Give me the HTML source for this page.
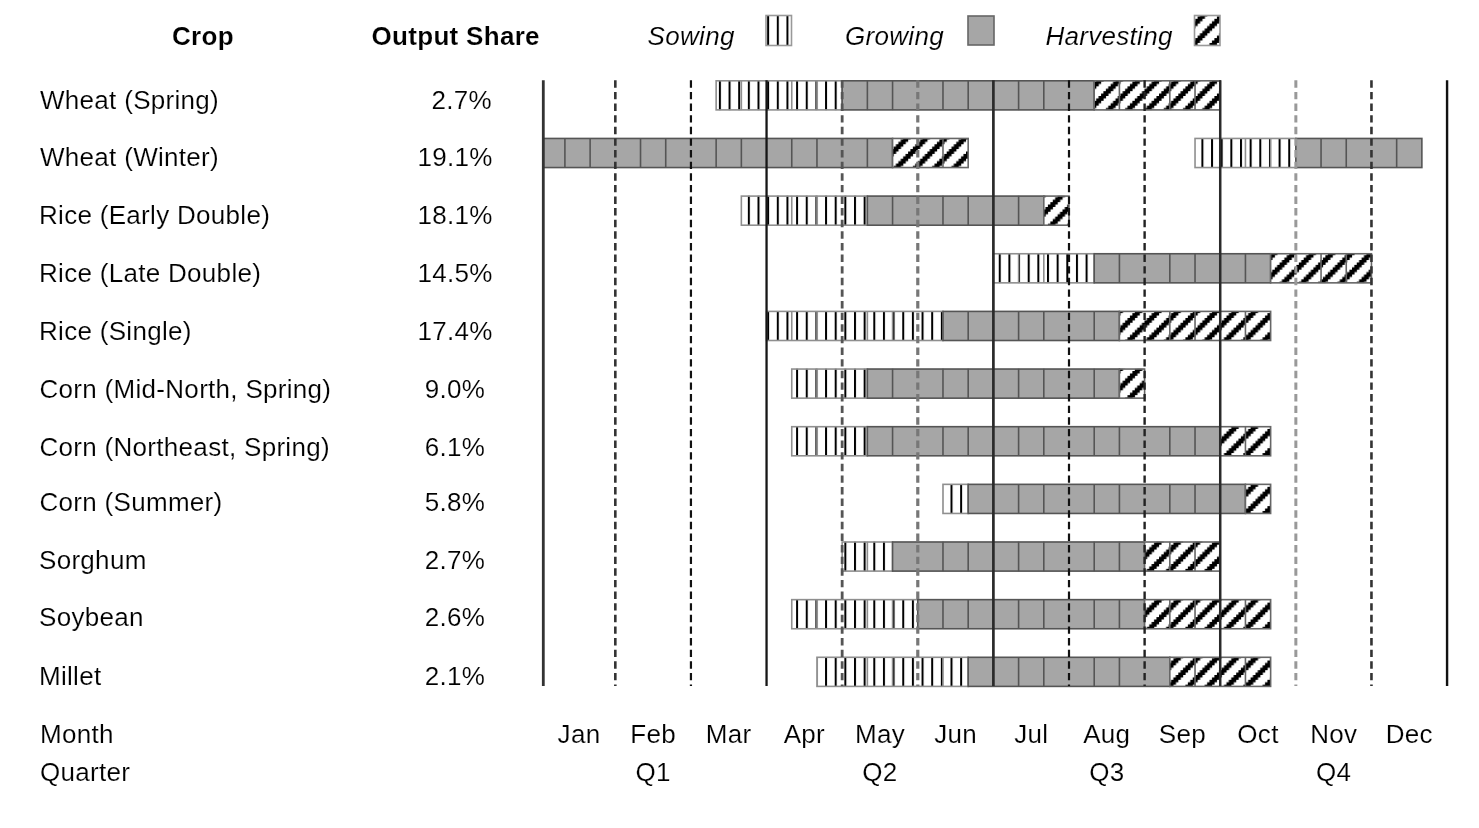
<!DOCTYPE html><html><head><meta charset="utf-8"><style>html,body{margin:0;padding:0;background:#fff;}body{width:1479px;height:828px;overflow:hidden;}svg{display:block;}text{font-family:"Liberation Sans", sans-serif;font-size:26px;fill:#000;letter-spacing:0.3px;stroke:#fff;stroke-width:0.15px;}svg{will-change:transform;}</style></head><body>
<svg width="1479" height="828" viewBox="0 0 1479 828">
<defs>
<pattern id="ps" patternUnits="userSpaceOnUse" x="4.800" y="0" width="9.650" height="100"><rect width="9.650" height="100" fill="#fff"/><rect x="0" y="0" width="2" height="100" fill="#000"/></pattern>
<pattern id="ph" patternUnits="userSpaceOnUse" x="1.0000" y="-0.5000" width="19.3000" height="19.3000"><rect width="19.3000" height="19.3000" fill="#fff"/><path fill="#000" d="M16.787 0.000h7.438v2.413h-7.438zM-2.513 0.000h7.438v2.413h-7.438zM14.375 2.413h7.438v2.413h-7.438zM-4.925 2.413h7.438v2.413h-7.438zM11.963 4.825h7.438v2.413h-7.438zM-7.338 4.825h7.438v2.413h-7.438zM9.550 7.238h7.438v2.413h-7.438zM-9.750 7.238h7.438v2.413h-7.438zM7.138 9.650h7.438v2.413h-7.438zM-12.162 9.650h7.438v2.413h-7.438zM4.725 12.062h7.438v2.413h-7.438zM-14.575 12.062h7.438v2.413h-7.438zM2.312 14.475h7.438v2.413h-7.438zM-16.988 14.475h7.438v2.413h-7.438zM-0.100 16.887h7.438v2.413h-7.438zM-19.400 16.887h7.438v2.413h-7.438z"/></pattern>
</defs>
<rect width="1479" height="828" fill="#fff"/>
<text x="172" y="44.6" font-weight="bold">Crop</text>
<text x="371.6" y="44.6" font-weight="bold">Output Share</text>
<text x="647.6" y="44.6" font-style="italic">Sowing</text>
<text x="845" y="44.6" font-style="italic">Growing</text>
<text x="1045.4" y="44.6" font-style="italic">Harvesting</text>
<rect x="766" y="15.5" width="25.5" height="30" fill="url(#ps)" stroke="#999" stroke-width="1.6"/>
<rect x="968" y="16" width="26" height="29" fill="#a6a6a6" stroke="#666" stroke-width="1.6"/>
<rect x="1194.5" y="15.5" width="25.5" height="30" fill="url(#ph)" stroke="#999" stroke-width="1.6"/>
<text x="40.0" y="108.7">Wheat (Spring)</text>
<text x="492" y="108.7" text-anchor="end">2.7%</text>
<rect x="716.14" y="80.50" width="126.02" height="29.60" fill="url(#ps)"/>
<line x1="741.35" y1="80.50" x2="741.35" y2="110.10" stroke="#8f8f8f" stroke-width="1.6"/>
<line x1="791.75" y1="80.50" x2="791.75" y2="110.10" stroke="#8f8f8f" stroke-width="1.6"/>
<line x1="816.96" y1="80.50" x2="816.96" y2="110.10" stroke="#8f8f8f" stroke-width="1.6"/>
<rect x="716.14" y="80.80" width="126.02" height="29.10" fill="none" stroke="#8f8f8f" stroke-width="1.6"/>
<rect x="842.16" y="80.50" width="252.05" height="29.60" fill="#a6a6a6"/>
<line x1="867.37" y1="80.50" x2="867.37" y2="110.10" stroke="#555" stroke-width="1.6"/>
<line x1="892.57" y1="80.50" x2="892.57" y2="110.10" stroke="#555" stroke-width="1.6"/>
<line x1="942.98" y1="80.50" x2="942.98" y2="110.10" stroke="#555" stroke-width="1.6"/>
<line x1="968.19" y1="80.50" x2="968.19" y2="110.10" stroke="#555" stroke-width="1.6"/>
<line x1="1018.60" y1="80.50" x2="1018.60" y2="110.10" stroke="#555" stroke-width="1.6"/>
<line x1="1043.80" y1="80.50" x2="1043.80" y2="110.10" stroke="#555" stroke-width="1.6"/>
<rect x="842.16" y="80.80" width="252.05" height="29.10" fill="none" stroke="#555" stroke-width="1.6"/>
<rect x="1094.21" y="80.50" width="126.02" height="29.60" fill="url(#ph)"/>
<line x1="1119.41" y1="80.50" x2="1119.41" y2="110.10" stroke="#666" stroke-width="1.6"/>
<line x1="1169.82" y1="80.50" x2="1169.82" y2="110.10" stroke="#666" stroke-width="1.6"/>
<line x1="1195.03" y1="80.50" x2="1195.03" y2="110.10" stroke="#666" stroke-width="1.6"/>
<rect x="1094.21" y="80.80" width="126.02" height="29.10" fill="none" stroke="#666" stroke-width="1.6"/>
<text x="40.0" y="166.3">Wheat (Winter)</text>
<text x="455" y="166.3" text-anchor="middle">19.1%</text>
<rect x="543.30" y="138.15" width="349.27" height="29.60" fill="#a6a6a6"/>
<line x1="564.91" y1="138.15" x2="564.91" y2="167.75" stroke="#555" stroke-width="1.6"/>
<line x1="590.12" y1="138.15" x2="590.12" y2="167.75" stroke="#555" stroke-width="1.6"/>
<line x1="640.53" y1="138.15" x2="640.53" y2="167.75" stroke="#555" stroke-width="1.6"/>
<line x1="665.73" y1="138.15" x2="665.73" y2="167.75" stroke="#555" stroke-width="1.6"/>
<line x1="716.14" y1="138.15" x2="716.14" y2="167.75" stroke="#555" stroke-width="1.6"/>
<line x1="741.35" y1="138.15" x2="741.35" y2="167.75" stroke="#555" stroke-width="1.6"/>
<line x1="791.75" y1="138.15" x2="791.75" y2="167.75" stroke="#555" stroke-width="1.6"/>
<line x1="816.96" y1="138.15" x2="816.96" y2="167.75" stroke="#555" stroke-width="1.6"/>
<line x1="867.37" y1="138.15" x2="867.37" y2="167.75" stroke="#555" stroke-width="1.6"/>
<rect x="543.30" y="138.45" width="349.27" height="29.10" fill="none" stroke="#555" stroke-width="1.6"/>
<rect x="892.57" y="138.15" width="75.61" height="29.60" fill="url(#ph)"/>
<line x1="942.98" y1="138.15" x2="942.98" y2="167.75" stroke="#666" stroke-width="1.6"/>
<rect x="892.57" y="138.45" width="75.61" height="29.10" fill="none" stroke="#666" stroke-width="1.6"/>
<rect x="1195.03" y="138.15" width="100.82" height="29.60" fill="url(#ps)"/>
<line x1="1245.44" y1="138.15" x2="1245.44" y2="167.75" stroke="#8f8f8f" stroke-width="1.6"/>
<line x1="1270.64" y1="138.15" x2="1270.64" y2="167.75" stroke="#8f8f8f" stroke-width="1.6"/>
<rect x="1195.03" y="138.45" width="100.82" height="29.10" fill="none" stroke="#8f8f8f" stroke-width="1.6"/>
<rect x="1295.85" y="138.15" width="126.02" height="29.60" fill="#a6a6a6"/>
<line x1="1321.05" y1="138.15" x2="1321.05" y2="167.75" stroke="#555" stroke-width="1.6"/>
<line x1="1346.25" y1="138.15" x2="1346.25" y2="167.75" stroke="#555" stroke-width="1.6"/>
<line x1="1396.66" y1="138.15" x2="1396.66" y2="167.75" stroke="#555" stroke-width="1.6"/>
<rect x="1295.85" y="138.45" width="126.02" height="29.10" fill="none" stroke="#555" stroke-width="1.6"/>
<text x="39.0" y="224.0">Rice (Early Double)</text>
<text x="455" y="224.0" text-anchor="middle">18.1%</text>
<rect x="741.35" y="195.80" width="126.02" height="29.60" fill="url(#ps)"/>
<line x1="791.75" y1="195.80" x2="791.75" y2="225.40" stroke="#8f8f8f" stroke-width="1.6"/>
<line x1="816.96" y1="195.80" x2="816.96" y2="225.40" stroke="#8f8f8f" stroke-width="1.6"/>
<rect x="741.35" y="196.10" width="126.02" height="29.10" fill="none" stroke="#8f8f8f" stroke-width="1.6"/>
<rect x="867.37" y="195.80" width="176.43" height="29.60" fill="#a6a6a6"/>
<line x1="892.57" y1="195.80" x2="892.57" y2="225.40" stroke="#555" stroke-width="1.6"/>
<line x1="942.98" y1="195.80" x2="942.98" y2="225.40" stroke="#555" stroke-width="1.6"/>
<line x1="968.19" y1="195.80" x2="968.19" y2="225.40" stroke="#555" stroke-width="1.6"/>
<line x1="1018.60" y1="195.80" x2="1018.60" y2="225.40" stroke="#555" stroke-width="1.6"/>
<rect x="867.37" y="196.10" width="176.43" height="29.10" fill="none" stroke="#555" stroke-width="1.6"/>
<rect x="1043.80" y="195.80" width="25.20" height="29.60" fill="url(#ph)"/>
<rect x="1043.80" y="196.10" width="25.20" height="29.10" fill="none" stroke="#666" stroke-width="1.6"/>
<text x="39.0" y="281.6">Rice (Late Double)</text>
<text x="455" y="281.6" text-anchor="middle">14.5%</text>
<rect x="993.39" y="253.45" width="100.82" height="29.60" fill="url(#ps)"/>
<line x1="1018.60" y1="253.45" x2="1018.60" y2="283.05" stroke="#8f8f8f" stroke-width="1.6"/>
<line x1="1043.80" y1="253.45" x2="1043.80" y2="283.05" stroke="#8f8f8f" stroke-width="1.6"/>
<rect x="993.39" y="253.75" width="100.82" height="29.10" fill="none" stroke="#8f8f8f" stroke-width="1.6"/>
<rect x="1094.21" y="253.45" width="176.43" height="29.60" fill="#a6a6a6"/>
<line x1="1119.41" y1="253.45" x2="1119.41" y2="283.05" stroke="#555" stroke-width="1.6"/>
<line x1="1169.82" y1="253.45" x2="1169.82" y2="283.05" stroke="#555" stroke-width="1.6"/>
<line x1="1195.03" y1="253.45" x2="1195.03" y2="283.05" stroke="#555" stroke-width="1.6"/>
<line x1="1245.44" y1="253.45" x2="1245.44" y2="283.05" stroke="#555" stroke-width="1.6"/>
<rect x="1094.21" y="253.75" width="176.43" height="29.10" fill="none" stroke="#555" stroke-width="1.6"/>
<rect x="1270.64" y="253.45" width="100.82" height="29.60" fill="url(#ph)"/>
<line x1="1321.05" y1="253.45" x2="1321.05" y2="283.05" stroke="#666" stroke-width="1.6"/>
<line x1="1346.25" y1="253.45" x2="1346.25" y2="283.05" stroke="#666" stroke-width="1.6"/>
<rect x="1270.64" y="253.75" width="100.82" height="29.10" fill="none" stroke="#666" stroke-width="1.6"/>
<text x="39.0" y="339.9">Rice (Single)</text>
<text x="455" y="339.9" text-anchor="middle">17.4%</text>
<rect x="766.55" y="311.10" width="176.43" height="29.60" fill="url(#ps)"/>
<line x1="791.75" y1="311.10" x2="791.75" y2="340.70" stroke="#8f8f8f" stroke-width="1.6"/>
<line x1="816.96" y1="311.10" x2="816.96" y2="340.70" stroke="#8f8f8f" stroke-width="1.6"/>
<line x1="867.37" y1="311.10" x2="867.37" y2="340.70" stroke="#8f8f8f" stroke-width="1.6"/>
<line x1="892.57" y1="311.10" x2="892.57" y2="340.70" stroke="#8f8f8f" stroke-width="1.6"/>
<rect x="766.55" y="311.40" width="176.43" height="29.10" fill="none" stroke="#8f8f8f" stroke-width="1.6"/>
<rect x="942.98" y="311.10" width="176.43" height="29.60" fill="#a6a6a6"/>
<line x1="968.19" y1="311.10" x2="968.19" y2="340.70" stroke="#555" stroke-width="1.6"/>
<line x1="1018.60" y1="311.10" x2="1018.60" y2="340.70" stroke="#555" stroke-width="1.6"/>
<line x1="1043.80" y1="311.10" x2="1043.80" y2="340.70" stroke="#555" stroke-width="1.6"/>
<line x1="1094.21" y1="311.10" x2="1094.21" y2="340.70" stroke="#555" stroke-width="1.6"/>
<rect x="942.98" y="311.40" width="176.43" height="29.10" fill="none" stroke="#555" stroke-width="1.6"/>
<rect x="1119.41" y="311.10" width="151.23" height="29.60" fill="url(#ph)"/>
<line x1="1169.82" y1="311.10" x2="1169.82" y2="340.70" stroke="#666" stroke-width="1.6"/>
<line x1="1195.03" y1="311.10" x2="1195.03" y2="340.70" stroke="#666" stroke-width="1.6"/>
<line x1="1245.44" y1="311.10" x2="1245.44" y2="340.70" stroke="#666" stroke-width="1.6"/>
<rect x="1119.41" y="311.40" width="151.23" height="29.10" fill="none" stroke="#666" stroke-width="1.6"/>
<text x="39.5" y="397.5">Corn (Mid-North, Spring)</text>
<text x="455" y="397.5" text-anchor="middle">9.0%</text>
<rect x="791.75" y="368.75" width="75.61" height="29.60" fill="url(#ps)"/>
<line x1="816.96" y1="368.75" x2="816.96" y2="398.35" stroke="#8f8f8f" stroke-width="1.6"/>
<rect x="791.75" y="369.05" width="75.61" height="29.10" fill="none" stroke="#8f8f8f" stroke-width="1.6"/>
<rect x="867.37" y="368.75" width="252.05" height="29.60" fill="#a6a6a6"/>
<line x1="892.57" y1="368.75" x2="892.57" y2="398.35" stroke="#555" stroke-width="1.6"/>
<line x1="942.98" y1="368.75" x2="942.98" y2="398.35" stroke="#555" stroke-width="1.6"/>
<line x1="968.19" y1="368.75" x2="968.19" y2="398.35" stroke="#555" stroke-width="1.6"/>
<line x1="1018.60" y1="368.75" x2="1018.60" y2="398.35" stroke="#555" stroke-width="1.6"/>
<line x1="1043.80" y1="368.75" x2="1043.80" y2="398.35" stroke="#555" stroke-width="1.6"/>
<line x1="1094.21" y1="368.75" x2="1094.21" y2="398.35" stroke="#555" stroke-width="1.6"/>
<rect x="867.37" y="369.05" width="252.05" height="29.10" fill="none" stroke="#555" stroke-width="1.6"/>
<rect x="1119.41" y="368.75" width="25.20" height="29.60" fill="url(#ph)"/>
<rect x="1119.41" y="369.05" width="25.20" height="29.10" fill="none" stroke="#666" stroke-width="1.6"/>
<text x="39.5" y="455.5">Corn (Northeast, Spring)</text>
<text x="455" y="455.5" text-anchor="middle">6.1%</text>
<rect x="791.75" y="426.40" width="75.61" height="29.60" fill="url(#ps)"/>
<line x1="816.96" y1="426.40" x2="816.96" y2="456.00" stroke="#8f8f8f" stroke-width="1.6"/>
<rect x="791.75" y="426.70" width="75.61" height="29.10" fill="none" stroke="#8f8f8f" stroke-width="1.6"/>
<rect x="867.37" y="426.40" width="352.86" height="29.60" fill="#a6a6a6"/>
<line x1="892.57" y1="426.40" x2="892.57" y2="456.00" stroke="#555" stroke-width="1.6"/>
<line x1="942.98" y1="426.40" x2="942.98" y2="456.00" stroke="#555" stroke-width="1.6"/>
<line x1="968.19" y1="426.40" x2="968.19" y2="456.00" stroke="#555" stroke-width="1.6"/>
<line x1="1018.60" y1="426.40" x2="1018.60" y2="456.00" stroke="#555" stroke-width="1.6"/>
<line x1="1043.80" y1="426.40" x2="1043.80" y2="456.00" stroke="#555" stroke-width="1.6"/>
<line x1="1094.21" y1="426.40" x2="1094.21" y2="456.00" stroke="#555" stroke-width="1.6"/>
<line x1="1119.41" y1="426.40" x2="1119.41" y2="456.00" stroke="#555" stroke-width="1.6"/>
<line x1="1169.82" y1="426.40" x2="1169.82" y2="456.00" stroke="#555" stroke-width="1.6"/>
<line x1="1195.03" y1="426.40" x2="1195.03" y2="456.00" stroke="#555" stroke-width="1.6"/>
<rect x="867.37" y="426.70" width="352.86" height="29.10" fill="none" stroke="#555" stroke-width="1.6"/>
<rect x="1220.23" y="426.40" width="50.41" height="29.60" fill="url(#ph)"/>
<line x1="1245.44" y1="426.40" x2="1245.44" y2="456.00" stroke="#666" stroke-width="1.6"/>
<rect x="1220.23" y="426.70" width="50.41" height="29.10" fill="none" stroke="#666" stroke-width="1.6"/>
<text x="39.5" y="511.4">Corn (Summer)</text>
<text x="455" y="511.4" text-anchor="middle">5.8%</text>
<rect x="942.98" y="484.05" width="25.20" height="29.60" fill="url(#ps)"/>
<rect x="942.98" y="484.35" width="25.20" height="29.10" fill="none" stroke="#8f8f8f" stroke-width="1.6"/>
<rect x="968.19" y="484.05" width="277.25" height="29.60" fill="#a6a6a6"/>
<line x1="1018.60" y1="484.05" x2="1018.60" y2="513.65" stroke="#555" stroke-width="1.6"/>
<line x1="1043.80" y1="484.05" x2="1043.80" y2="513.65" stroke="#555" stroke-width="1.6"/>
<line x1="1094.21" y1="484.05" x2="1094.21" y2="513.65" stroke="#555" stroke-width="1.6"/>
<line x1="1119.41" y1="484.05" x2="1119.41" y2="513.65" stroke="#555" stroke-width="1.6"/>
<line x1="1169.82" y1="484.05" x2="1169.82" y2="513.65" stroke="#555" stroke-width="1.6"/>
<line x1="1195.03" y1="484.05" x2="1195.03" y2="513.65" stroke="#555" stroke-width="1.6"/>
<rect x="968.19" y="484.35" width="277.25" height="29.10" fill="none" stroke="#555" stroke-width="1.6"/>
<rect x="1245.44" y="484.05" width="25.20" height="29.60" fill="url(#ph)"/>
<rect x="1245.44" y="484.35" width="25.20" height="29.10" fill="none" stroke="#666" stroke-width="1.6"/>
<text x="39.0" y="568.6">Sorghum</text>
<text x="455" y="568.6" text-anchor="middle">2.7%</text>
<rect x="842.16" y="541.70" width="50.41" height="29.60" fill="url(#ps)"/>
<line x1="867.37" y1="541.70" x2="867.37" y2="571.30" stroke="#8f8f8f" stroke-width="1.6"/>
<rect x="842.16" y="542.00" width="50.41" height="29.10" fill="none" stroke="#8f8f8f" stroke-width="1.6"/>
<rect x="892.57" y="541.70" width="252.04" height="29.60" fill="#a6a6a6"/>
<line x1="942.98" y1="541.70" x2="942.98" y2="571.30" stroke="#555" stroke-width="1.6"/>
<line x1="968.19" y1="541.70" x2="968.19" y2="571.30" stroke="#555" stroke-width="1.6"/>
<line x1="1018.60" y1="541.70" x2="1018.60" y2="571.30" stroke="#555" stroke-width="1.6"/>
<line x1="1043.80" y1="541.70" x2="1043.80" y2="571.30" stroke="#555" stroke-width="1.6"/>
<line x1="1094.21" y1="541.70" x2="1094.21" y2="571.30" stroke="#555" stroke-width="1.6"/>
<line x1="1119.41" y1="541.70" x2="1119.41" y2="571.30" stroke="#555" stroke-width="1.6"/>
<rect x="892.57" y="542.00" width="252.04" height="29.10" fill="none" stroke="#555" stroke-width="1.6"/>
<rect x="1144.62" y="541.70" width="75.61" height="29.60" fill="url(#ph)"/>
<line x1="1169.82" y1="541.70" x2="1169.82" y2="571.30" stroke="#666" stroke-width="1.6"/>
<line x1="1195.03" y1="541.70" x2="1195.03" y2="571.30" stroke="#666" stroke-width="1.6"/>
<rect x="1144.62" y="542.00" width="75.61" height="29.10" fill="none" stroke="#666" stroke-width="1.6"/>
<text x="39.0" y="626.3">Soybean</text>
<text x="455" y="626.3" text-anchor="middle">2.6%</text>
<rect x="791.75" y="599.35" width="126.02" height="29.60" fill="url(#ps)"/>
<line x1="816.96" y1="599.35" x2="816.96" y2="628.95" stroke="#8f8f8f" stroke-width="1.6"/>
<line x1="867.37" y1="599.35" x2="867.37" y2="628.95" stroke="#8f8f8f" stroke-width="1.6"/>
<line x1="892.57" y1="599.35" x2="892.57" y2="628.95" stroke="#8f8f8f" stroke-width="1.6"/>
<rect x="791.75" y="599.65" width="126.02" height="29.10" fill="none" stroke="#8f8f8f" stroke-width="1.6"/>
<rect x="917.78" y="599.35" width="226.84" height="29.60" fill="#a6a6a6"/>
<line x1="942.98" y1="599.35" x2="942.98" y2="628.95" stroke="#555" stroke-width="1.6"/>
<line x1="968.19" y1="599.35" x2="968.19" y2="628.95" stroke="#555" stroke-width="1.6"/>
<line x1="1018.60" y1="599.35" x2="1018.60" y2="628.95" stroke="#555" stroke-width="1.6"/>
<line x1="1043.80" y1="599.35" x2="1043.80" y2="628.95" stroke="#555" stroke-width="1.6"/>
<line x1="1094.21" y1="599.35" x2="1094.21" y2="628.95" stroke="#555" stroke-width="1.6"/>
<line x1="1119.41" y1="599.35" x2="1119.41" y2="628.95" stroke="#555" stroke-width="1.6"/>
<rect x="917.78" y="599.65" width="226.84" height="29.10" fill="none" stroke="#555" stroke-width="1.6"/>
<rect x="1144.62" y="599.35" width="126.02" height="29.60" fill="url(#ph)"/>
<line x1="1169.82" y1="599.35" x2="1169.82" y2="628.95" stroke="#666" stroke-width="1.6"/>
<line x1="1195.03" y1="599.35" x2="1195.03" y2="628.95" stroke="#666" stroke-width="1.6"/>
<line x1="1245.44" y1="599.35" x2="1245.44" y2="628.95" stroke="#666" stroke-width="1.6"/>
<rect x="1144.62" y="599.65" width="126.02" height="29.10" fill="none" stroke="#666" stroke-width="1.6"/>
<text x="39.0" y="684.8">Millet</text>
<text x="455" y="684.8" text-anchor="middle">2.1%</text>
<rect x="816.96" y="657.00" width="151.23" height="29.60" fill="url(#ps)"/>
<line x1="867.37" y1="657.00" x2="867.37" y2="686.60" stroke="#8f8f8f" stroke-width="1.6"/>
<line x1="892.57" y1="657.00" x2="892.57" y2="686.60" stroke="#8f8f8f" stroke-width="1.6"/>
<line x1="942.98" y1="657.00" x2="942.98" y2="686.60" stroke="#8f8f8f" stroke-width="1.6"/>
<rect x="816.96" y="657.30" width="151.23" height="29.10" fill="none" stroke="#8f8f8f" stroke-width="1.6"/>
<rect x="968.19" y="657.00" width="201.64" height="29.60" fill="#a6a6a6"/>
<line x1="1018.60" y1="657.00" x2="1018.60" y2="686.60" stroke="#555" stroke-width="1.6"/>
<line x1="1043.80" y1="657.00" x2="1043.80" y2="686.60" stroke="#555" stroke-width="1.6"/>
<line x1="1094.21" y1="657.00" x2="1094.21" y2="686.60" stroke="#555" stroke-width="1.6"/>
<line x1="1119.41" y1="657.00" x2="1119.41" y2="686.60" stroke="#555" stroke-width="1.6"/>
<rect x="968.19" y="657.30" width="201.64" height="29.10" fill="none" stroke="#555" stroke-width="1.6"/>
<rect x="1169.82" y="657.00" width="100.82" height="29.60" fill="url(#ph)"/>
<line x1="1195.03" y1="657.00" x2="1195.03" y2="686.60" stroke="#666" stroke-width="1.6"/>
<line x1="1245.44" y1="657.00" x2="1245.44" y2="686.60" stroke="#666" stroke-width="1.6"/>
<rect x="1169.82" y="657.30" width="100.82" height="29.10" fill="none" stroke="#666" stroke-width="1.6"/>
<line x1="543.30" y1="80.3" x2="543.30" y2="686.0" stroke="#333" stroke-width="2.8"/>
<line x1="615.32" y1="80.3" x2="615.32" y2="686.0" stroke="#333" stroke-width="2.6" stroke-dasharray="7.4 4.22"/>
<line x1="690.94" y1="80.3" x2="690.94" y2="686.0" stroke="#111" stroke-width="2.2" stroke-dasharray="7.4 4.22"/>
<line x1="766.55" y1="80.3" x2="766.55" y2="686.0" stroke="#161616" stroke-width="2.3"/>
<line x1="842.16" y1="80.3" x2="842.16" y2="686.0" stroke="#555" stroke-width="2.8" stroke-dasharray="7.4 4.22"/>
<line x1="917.78" y1="80.3" x2="917.78" y2="686.0" stroke="#777" stroke-width="3.2" stroke-dasharray="7.4 4.22"/>
<line x1="993.39" y1="80.3" x2="993.39" y2="686.0" stroke="#2a2a2a" stroke-width="2.7"/>
<line x1="1069.00" y1="80.3" x2="1069.00" y2="686.0" stroke="#111" stroke-width="2.2" stroke-dasharray="7.4 4.22"/>
<line x1="1144.62" y1="80.3" x2="1144.62" y2="686.0" stroke="#222" stroke-width="2.4" stroke-dasharray="7.4 4.22"/>
<line x1="1220.23" y1="80.3" x2="1220.23" y2="686.0" stroke="#2a2a2a" stroke-width="2.5"/>
<line x1="1295.85" y1="80.3" x2="1295.85" y2="686.0" stroke="#999" stroke-width="3.0" stroke-dasharray="7.4 4.22"/>
<line x1="1371.46" y1="80.3" x2="1371.46" y2="686.0" stroke="#333" stroke-width="2.6" stroke-dasharray="7.4 4.22"/>
<line x1="1447.07" y1="80.3" x2="1447.07" y2="686.0" stroke="#111" stroke-width="2.4"/>
<text x="40" y="742.7">Month</text>
<text x="40" y="781">Quarter</text>
<text x="579.0" y="742.7" text-anchor="middle">Jan</text>
<text x="653.1" y="742.7" text-anchor="middle">Feb</text>
<text x="728.7" y="742.7" text-anchor="middle">Mar</text>
<text x="804.4" y="742.7" text-anchor="middle">Apr</text>
<text x="880.0" y="742.7" text-anchor="middle">May</text>
<text x="955.6" y="742.7" text-anchor="middle">Jun</text>
<text x="1031.2" y="742.7" text-anchor="middle">Jul</text>
<text x="1106.8" y="742.7" text-anchor="middle">Aug</text>
<text x="1182.4" y="742.7" text-anchor="middle">Sep</text>
<text x="1258.0" y="742.7" text-anchor="middle">Oct</text>
<text x="1333.7" y="742.7" text-anchor="middle">Nov</text>
<text x="1409.3" y="742.7" text-anchor="middle">Dec</text>
<text x="653.1" y="781" text-anchor="middle">Q1</text>
<text x="880.0" y="781" text-anchor="middle">Q2</text>
<text x="1106.8" y="781" text-anchor="middle">Q3</text>
<text x="1333.7" y="781" text-anchor="middle">Q4</text>
</svg></body></html>
